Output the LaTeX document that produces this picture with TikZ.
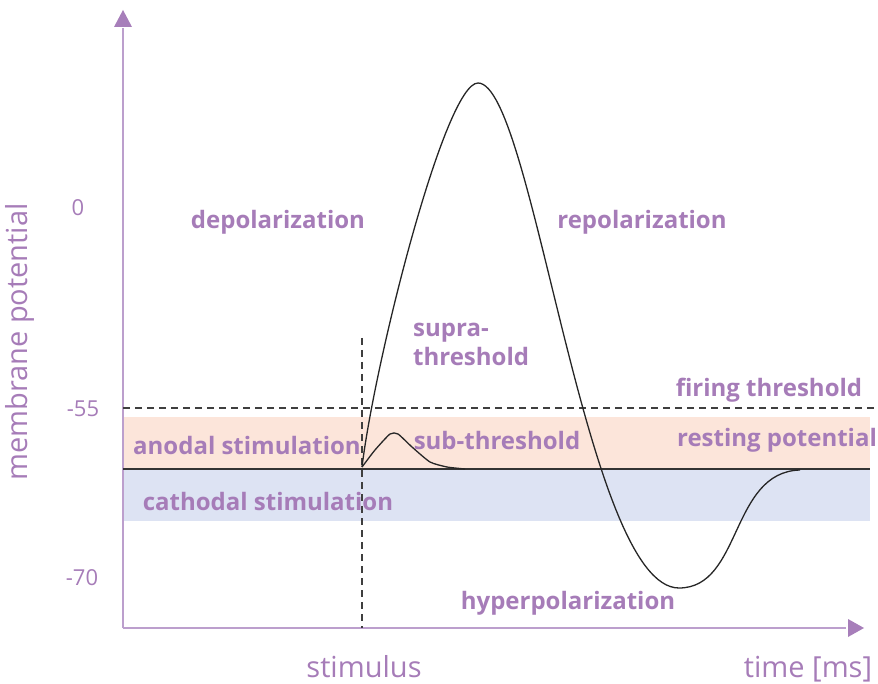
\documentclass[tikz,border=0pt]{standalone}
\usepackage{fontspec}
\setmainfont{Open Sans}
\usetikzlibrary{arrows.meta}
\definecolor{lbl}{HTML}{A67CB8}
\definecolor{axisc}{HTML}{BC9FCD}
\definecolor{headc}{HTML}{A77EBA}
\definecolor{bandor}{HTML}{FCE5DA}
\definecolor{bandbl}{HTML}{DDE3F3}
\definecolor{dashc}{HTML}{3F3F3F}
\tikzset{
  boldlbl/.style={text=lbl, font=\fontsize{24}{29}\selectfont\bfseries, inner sep=0pt},
  reglbl/.style={text=lbl, font=\fontsize{29}{34}\selectfont, inner sep=0pt},
  numlbl/.style={text=lbl, font=\fontsize{22}{26}\selectfont, inner sep=0pt},
  axisline/.style={draw=axisc, line width=2.2pt},
  dashline/.style={draw=dashc, line width=1.4pt, dash pattern=on 7pt off 5pt},
  curve/.style={draw=black!85, line width=1.3pt, line join=round}
}
\begin{document}
\begin{tikzpicture}[x=1pt,y=-1pt]
\useasboundingbox (0,0) rectangle (878,684);
% bands
\fill[bandor] (122,417) rectangle (870,469);
\fill[bandbl] (122,469) rectangle (870,521);
% coordinates
\coordinate (O) at (123,628);
\coordinate (ytip) at (123,10);
\coordinate (xtip) at (864,628);
\coordinate (thrL) at (123,408);
\coordinate (thrR) at (878,408);
\coordinate (restL) at (123,469);
\coordinate (restR) at (870,469);
\coordinate (stimT) at (362,338);
\coordinate (stimB) at (362,628);
\coordinate (start) at (362,467);
\coordinate (peak) at (478,83);
\coordinate (trough) at (679,588);
\coordinate (back) at (800,470);
% axes
\draw[axisline] (O) -- (123,28);
\draw[axisline] (O) -- (846,628);
\fill[headc] (ytip) -- (114,27) -- (132,27) -- cycle;
\fill[headc] (xtip) -- (848,619) -- (848,637) -- cycle;
% lines
\draw[dashline] (thrL) -- (thrR);
\draw[draw=black!80, line width=1.3pt] (restL) -- (restR);
\draw[dashline] (stimT) -- (stimB);
% action potential
\draw[curve] (start) .. controls (375,360) and (445,83) .. (peak)
  .. controls (533,83) and (585,588) .. (trough)
  .. controls (742,588) and (730,472) .. (back);
% sub-threshold bump
\draw[curve] plot[smooth, tension=0.35] coordinates {
 (362,467) (375,450) (390,434) (398,434) (412,447) (430,462) (447,467) (465,469)};
% labels
\node[numlbl] (n0) at (78,208) {0};
\node[numlbl] (n55) at (83,409) {-55};
\node[numlbl] (n70) at (82,578) {-70};
\node[reglbl, rotate=90] (ylab) at (20,342) {membrane potential};
\node[reglbl, anchor=base, text depth=0pt] (stim) at (364,677) {stimulus};
\node[reglbl, anchor=base] (time) at (808,677) {time [ms]};
\node[boldlbl] (depol) at (278,222) {depolarization};
\node[boldlbl] (repol) at (642,222) {repolarization};
\node[boldlbl, align=left, anchor=west] (supra) at (413,344) {supra-\\threshold};
\node[boldlbl] (sub) at (497,440) {sub-threshold};
\node[boldlbl] (fire) at (769,390) {firing threshold};
\node[boldlbl] (rest) at (777,440) {resting potential};
\node[boldlbl] (anod) at (247,445) {anodal stimulation};
\node[boldlbl] (cath) at (268,501) {cathodal stimulation};
\node[boldlbl] (hyper) at (568,603) {hyperpolarization};
\end{tikzpicture}
\end{document}
